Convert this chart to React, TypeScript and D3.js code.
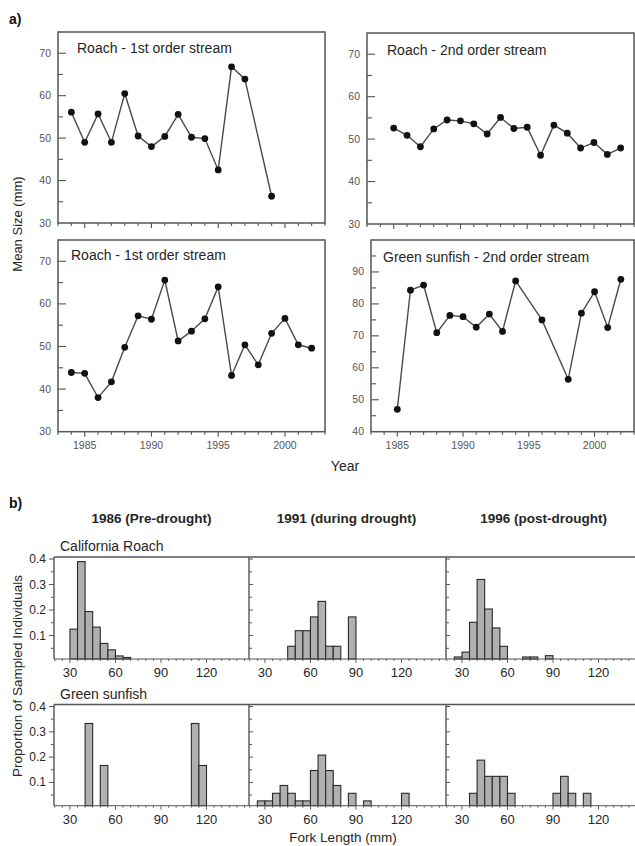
import React from 'react';
import * as d3 from 'd3';

const FONT = "'Liberation Sans', Arial, Helvetica, sans-serif";

// ---------- Panel a) time series data ----------
const yearsRoach1stTop = [1984, 1985, 1986, 1987, 1988, 1989, 1990, 1991, 1992, 1993, 1994, 1995, 1996, 1997, 1999];
const roach1stTop = [56.1, 49.0, 55.7, 49.0, 60.5, 50.5, 48.0, 50.4, 55.6, 50.2, 49.9, 42.5, 66.8, 63.9, 36.3];

const yearsRoach2nd = [1985, 1986, 1987, 1988, 1989, 1990, 1991, 1992, 1993, 1994, 1995, 1996, 1997, 1998, 1999, 2000, 2001, 2002];
const roach2nd = [52.6, 50.9, 48.2, 52.4, 54.5, 54.3, 53.6, 51.2, 55.1, 52.5, 52.8, 46.2, 53.3, 51.4, 47.9, 49.2, 46.4, 47.9];

const yearsRoach1stBottom = [1984, 1985, 1986, 1987, 1988, 1989, 1990, 1991, 1992, 1993, 1994, 1995, 1996, 1997, 1998, 1999, 2000, 2001, 2002];
const roach1stBottom = [43.9, 43.7, 38.0, 41.7, 49.8, 57.2, 56.4, 65.6, 51.3, 53.6, 56.5, 64.0, 43.2, 50.4, 45.7, 53.1, 56.6, 50.4, 49.6];

const yearsSunfish = [1985, 1986, 1987, 1988, 1989, 1990, 1991, 1992, 1993, 1994, 1996, 1998, 1999, 2000, 2001, 2002];
const sunfish2nd = [47.0, 84.3, 85.9, 71.0, 76.4, 76.0, 72.7, 76.8, 71.4, 87.2, 75.0, 56.4, 77.1, 83.8, 72.6, 87.7];

const yearLabels = [1985, 1990, 1995, 2000];
const sizeTicksRoach = [30, 40, 50, 60, 70];
const sizeTicksSunfish = [40, 50, 60, 70, 80, 90];

// ---------- Panel b) histogram data (bin start in mm, bin width 5 mm) ----------
const roach1986Bins = [30, 35, 40, 45, 50, 55, 60, 65];
const roach1986 = [0.125, 0.39, 0.194, 0.133, 0.069, 0.044, 0.02, 0.014];
const roach1991Bins = [45, 50, 55, 60, 65, 70, 75, 85];
const roach1991 = [0.058, 0.119, 0.119, 0.173, 0.234, 0.058, 0.058, 0.173];
const roach1996Bins = [25, 30, 35, 40, 45, 50, 55, 70, 75, 85];
const roach1996 = [0.016, 0.035, 0.152, 0.32, 0.204, 0.13, 0.058, 0.016, 0.016, 0.021];

const sunfish1986Bins = [40, 50, 110, 115];
const sunfish1986 = [0.333, 0.167, 0.333, 0.167];
const sunfish1991Bins = [25, 30, 35, 40, 45, 50, 55, 60, 65, 70, 75, 85, 95, 120];
const sunfish1991 = [0.027, 0.027, 0.057, 0.088, 0.057, 0.027, 0.027, 0.147, 0.208, 0.147, 0.088, 0.057, 0.027, 0.057];
const sunfish1996Bins = [35, 40, 45, 50, 55, 60, 90, 95, 100, 110];
const sunfish1996 = [0.057, 0.188, 0.124, 0.124, 0.124, 0.057, 0.057, 0.124, 0.057, 0.057];

const periodTitles = ['1986 (Pre-drought)', '1991 (during drought)', '1996 (post-drought)'];
const forkTicks = [30, 60, 90, 120];
const propTicks = [0.1, 0.2, 0.3, 0.4];
const BIN = 5;

const AX = '#555';
const TXT = '#262626';

function TimePanel(props: any) {
  const { left, right, top, bottom, yDomain, yLabels, years, values, title, tx, ty, showX } = props;
  const x = d3.scaleLinear().domain([1983, 2003]).range([left, right]);
  const y = d3.scaleLinear().domain(yDomain).range([bottom, top]);
  const line = d3.line<number>().x((_, i) => x(years[i])).y((d) => y(d));
  const xt = x.ticks(20);
  const yMinor = y.ticks(12).filter((v) => v % 5 === 0 && v > yDomain[0] && v < yDomain[1]);
  return (
    <g>
      <rect x={left} y={top} width={right - left} height={bottom - top} fill="none" stroke={AX} strokeWidth={1.5} />
      {yMinor.map((v) => (
        <line key={'yt' + v} x1={left} x2={left + (v % 10 === 0 ? 8 : 5)} y1={y(v)} y2={y(v)} stroke={AX} strokeWidth={1.1} />
      ))}
      {yLabels.map((v: number) => (
        <text key={'yl' + v} x={left - 7} y={y(v) + 3.5} textAnchor="end" fontSize={10.5} fill="#555" fontFamily={FONT}>{v}</text>
      ))}
      {xt.map((v) => (
        <line key={'xt' + v} x1={x(v)} x2={x(v)} y1={bottom} y2={bottom + (v % 5 === 0 ? 5 : 3)} stroke={AX} strokeWidth={1.1} />
      ))}
      {showX && yearLabels.map((v) => (
        <text key={'xl' + v} x={x(v)} y={bottom + 17} textAnchor="middle" fontSize={10.5} fill="#555" fontFamily={FONT}>{v}</text>
      ))}
      <path d={line(values) || ''} fill="none" stroke="#4a4a4a" strokeWidth={1.4} />
      {values.map((v: number, i: number) => (
        <circle key={'p' + i} cx={x(years[i])} cy={y(v)} r={3.4} fill="#111" />
      ))}
      <text x={tx} y={ty} fontSize={14} fill={TXT} fontFamily={FONT}>{title}</text>
    </g>
  );
}

const PANEL_W = 195;
const panelLefts = [54, 249, 446];

function HistRow(props: any) {
  const { top, base, label, data } = props;
  const y = d3.scaleLinear().domain([0.008, 0.408]).range([base, top]);
  const minor = [0.05, 0.1, 0.15, 0.2, 0.25, 0.3, 0.35, 0.4];
  return (
    <g>
      <text x={60} y={top - 6} fontSize={14} fill={TXT} fontFamily={FONT}>{label}</text>
      {data.map((d: any, pi: number) => {
        const x0 = panelLefts[pi];
        const x = d3.scaleLinear().domain([19.5, 148]).range([x0, x0 + PANEL_W]);
        const xt = d3.range(20, 150, 5);
        return (
          <g key={'p' + pi}>
            {d.bins.map((b: number, i: number) => (
              <rect key={'b' + i} x={x(b)} y={y(d.vals[i])} width={x(b + BIN) - x(b)} height={base - y(d.vals[i])} fill="#b0b0b0" stroke="#2a2a2a" strokeWidth={1.1} />
            ))}
            {xt.map((v) => (
              <line key={'xt' + v} x1={x(v)} x2={x(v)} y1={base} y2={base + (v % 30 === 0 ? 4 : 2)} stroke={AX} strokeWidth={0.9} />
            ))}
            {forkTicks.map((v) => (
              <text key={'xl' + v} x={x(v)} y={base + 18} textAnchor="middle" fontSize={13} fill={TXT} fontFamily={FONT}>{v}</text>
            ))}
            {minor.map((v) => (
              pi === 0 ? (
                <line key={'yt' + v} x1={x0 - (Math.round(v * 100) % 10 === 0 ? 5 : 3)} x2={x0} y1={y(v)} y2={y(v)} stroke={AX} strokeWidth={1} />
              ) : (
                <line key={'yt' + v} x1={x0} x2={x0 + (Math.round(v * 100) % 10 === 0 ? 4 : 3)} y1={y(v)} y2={y(v)} stroke={AX} strokeWidth={1} />
              )
            ))}
            <line x1={x0} x2={x0} y1={top} y2={base} stroke={AX} strokeWidth={1.4} />
          </g>
        );
      })}
      {propTicks.map((v) => (
        <text key={'yl' + v} x={46} y={y(v) + 4} textAnchor="end" fontSize={12} fill={TXT} fontFamily={FONT}>{v.toFixed(1)}</text>
      ))}
      <line x1={54} x2={635} y1={top} y2={top} stroke={AX} strokeWidth={1.4} />
      <line x1={54} x2={635} y1={base} y2={base} stroke={AX} strokeWidth={1} />
    </g>
  );
}

export default function App() {
  return (
    <svg width={635} height={846} viewBox="0 0 635 846" style={{ position: 'absolute', left: 0, top: 0, background: '#fff' }}>
      <rect x={0} y={0} width={635} height={846} fill="#fff" />
      <text x={9} y={24} fontSize={14} fontWeight="bold" fill="#111" fontFamily={FONT}>a)</text>
      <TimePanel left={58} right={325} top={32} bottom={223} yDomain={[30, 75]} yLabels={sizeTicksRoach}
        years={yearsRoach1stTop} values={roach1stTop} title="Roach - 1st order stream" tx={77} ty={53} showX={false} />
      <TimePanel left={367} right={634} top={33} bottom={224} yDomain={[30, 75]} yLabels={sizeTicksRoach}
        years={yearsRoach2nd} values={roach2nd} title="Roach - 2nd order stream" tx={387} ty={55} showX={false} />
      <TimePanel left={58} right={325} top={240} bottom={431.7} yDomain={[30, 75]} yLabels={sizeTicksRoach}
        years={yearsRoach1stBottom} values={roach1stBottom} title="Roach - 1st order stream" tx={71} ty={260} showX={true} />
      <TimePanel left={371} right={634} top={240} bottom={431.7} yDomain={[40, 100]} yLabels={sizeTicksSunfish}
        years={yearsSunfish} values={sunfish2nd} title="Green sunfish - 2nd order stream" tx={383} ty={262} showX={true} />
      <text transform="translate(22,224) rotate(-90)" textAnchor="middle" fontSize={13} fill={TXT} fontFamily={FONT}>Mean Size (mm)</text>
      <text x={345} y={471} textAnchor="middle" fontSize={14} fill={TXT} fontFamily={FONT}>Year</text>

      <text x={9} y={508} fontSize={14} fontWeight="bold" fill="#111" fontFamily={FONT}>b)</text>
      {periodTitles.map((t, i) => (
        <text key={t} x={panelLefts[i] + PANEL_W / 2} y={523} textAnchor="middle" fontSize={13.5} fontWeight="bold" fill={TXT} fontFamily={FONT}>{t}</text>
      ))}
      <HistRow top={557} base={659} label="California Roach"
        data={[{ bins: roach1986Bins, vals: roach1986 }, { bins: roach1991Bins, vals: roach1991 }, { bins: roach1996Bins, vals: roach1996 }]} />
      <HistRow top={704.5} base={805.7} label="Green sunfish"
        data={[{ bins: sunfish1986Bins, vals: sunfish1986 }, { bins: sunfish1991Bins, vals: sunfish1991 }, { bins: sunfish1996Bins, vals: sunfish1996 }]} />
      <text transform="translate(22,676) rotate(-90)" textAnchor="middle" fontSize={13.5} fill={TXT} fontFamily={FONT}>Proportion of Sampled Individuals</text>
      <text x={343} y={842} textAnchor="middle" fontSize={13.5} fill={TXT} fontFamily={FONT}>Fork Length (mm)</text>
    </svg>
  );
}
